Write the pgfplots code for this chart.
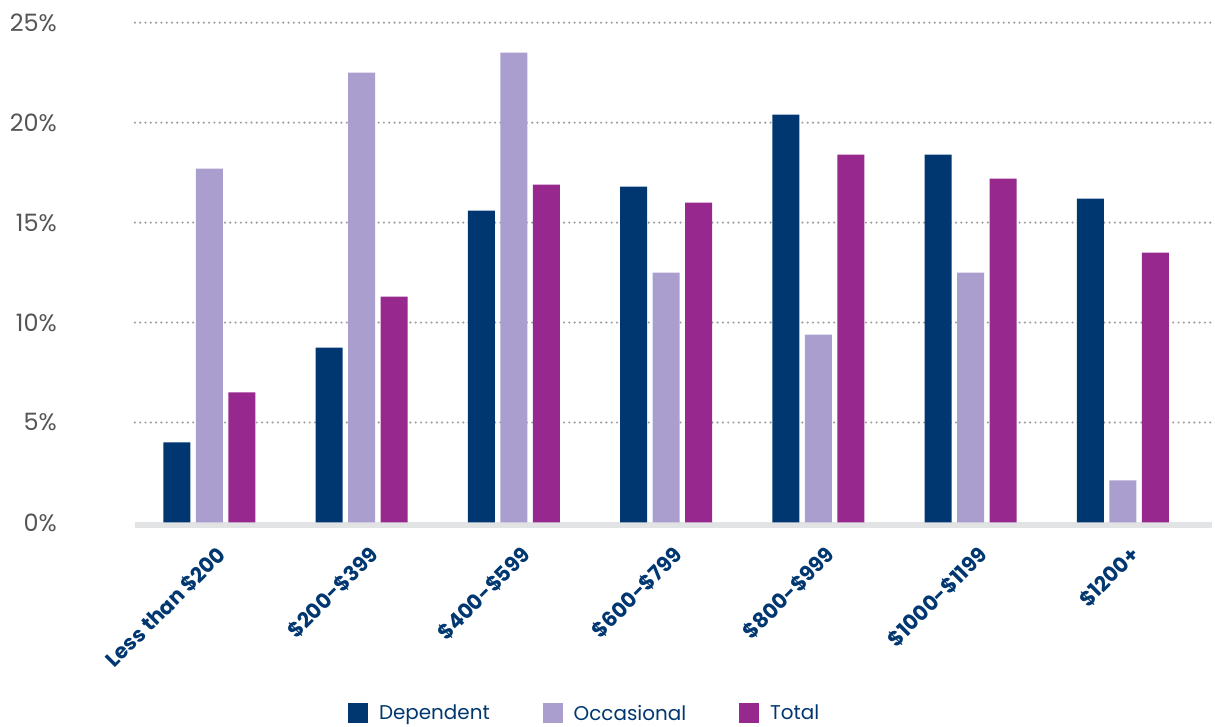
\documentclass[border=0pt]{standalone}
\usepackage{fontspec}
\setmainfont{Poppins}
\usepackage{pgfplots}
\pgfplotsset{compat=1.18}

\definecolor{depcol}{HTML}{003770}
\definecolor{occcol}{HTML}{AA9ECE}
\definecolor{totcol}{HTML}{97288D}
\definecolor{ticktext}{HTML}{555555}
\definecolor{gridcol}{HTML}{A0A0A0}
\definecolor{basecol}{HTML}{E2E3E4}

\begin{document}
\begin{tikzpicture}
\begin{axis}[
  scale only axis,
  width=1078bp, height=500bp,
  xmin=-0.489, xmax=6.588,
  ymin=0, ymax=25,
  ytick={5,10,15,20,25},
  extra y ticks={0},
  extra y tick style={grid=none},
  yticklabel={\pgfmathprintnumber{\tick}\%},
  /pgf/number format/assume math mode=true,
  xtick={0,1,2,3,4,5,6},
  xticklabels={Less than \$200,\$200-\$399,\$400-\$599,\$600-\$799,\$800-\$999,\$1000-\$1199,\$1200+},
  major tick length=0pt,
  axis line style={draw=none},
  ymajorgrids,
  major grid style={gridcol, line width=2.4bp, dash pattern=on 0bp off 5.3bp, line cap=round},
  yticklabel style={font=\fontsize{24}{24}\selectfont, text=ticktext, inner sep=0pt, xshift=-78bp},
  xticklabel style={font=\bfseries\fontsize{21}{21}\selectfont, text=depcol, inner sep=0pt,
                    xshift=6bp, yshift=-22bp, rotate=45, anchor=north east},
  ybar=0pt,
  bar width=27bp,
  legend columns=3,
  legend style={draw=none, at={(rel axis cs:0.1976,-0.382)}, anchor=west,
    font=\fontsize{20}{20}\selectfont, text=depcol,
    /tikz/every odd column/.append style={column sep=9bp},
    /tikz/every even column/.append style={column sep=51bp},
    inner sep=0pt},
  legend image code/.code={\fill[#1] (0bp,-10bp) rectangle (20bp,10bp);},
  clip=false,
]
% light strip under the bars
\draw[basecol, line width=5.3bp] ([yshift=-2.65bp]rel axis cs:0,0) -- ([yshift=-2.65bp]rel axis cs:1,0);

\addplot[fill=depcol, draw=none, bar shift=-32.5bp] coordinates
  {(0,4.0) (1,8.75) (2,15.6) (3,16.8) (4,20.4) (5,18.4) (6,16.2)};
\addlegendentry{Dependent}
\addplot[fill=occcol, draw=none, bar shift=0bp] coordinates
  {(0,17.7) (1,22.5) (2,23.5) (3,12.5) (4,9.4) (5,12.5) (6,2.1)};
\addlegendentry{Occasional}
\addplot[fill=totcol, draw=none, bar shift=32.5bp] coordinates
  {(0,6.5) (1,11.3) (2,16.9) (3,16.0) (4,18.4) (5,17.2) (6,13.5)};
\addlegendentry{Total}
\end{axis}
\path[use as bounding box] (-135bp,-204.3bp) rectangle (1080bp,522.7bp);
\end{tikzpicture}
\end{document}
